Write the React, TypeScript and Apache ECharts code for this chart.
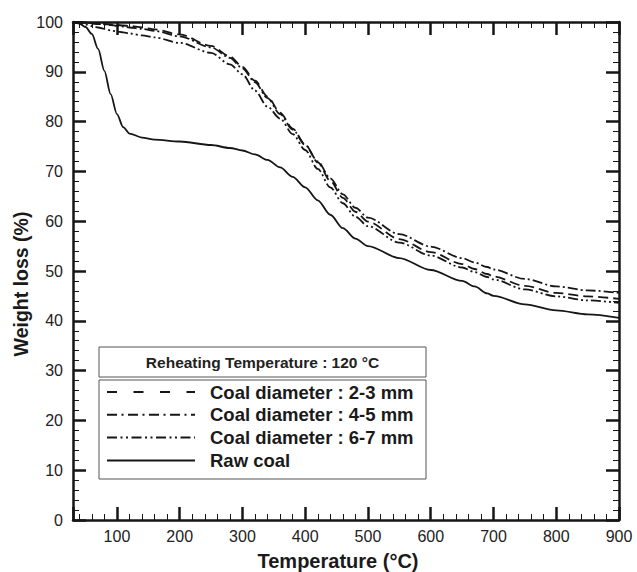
import React, { useEffect, useRef } from "react";
import * as echarts from "echarts";

const temps = [30, 40, 50, 60, 70, 80, 90, 100, 110, 120, 140, 160, 200, 250, 280, 300, 320, 340, 360, 380, 400, 420, 440, 460, 480, 500, 550, 600, 650, 670, 690, 700, 750, 800, 850, 900];

const coal23 = [100, 100, 99.9, 99.8, 99.7, 99.6, 99.5, 99.4, 99.3, 99.2, 98.9, 98.5, 97.5, 95.2, 93.1, 91.0, 88.2, 85.0, 81.8, 78.6, 75.4, 71.8, 68.1, 64.7, 61.9, 59.9, 56.4, 53.8, 51.4, 50.4, 49.4, 48.9, 47.0, 45.6, 44.9, 44.4];
const coal45 = [100, 100, 99.9, 99.7, 99.6, 99.5, 99.4, 99.2, 99.1, 98.9, 98.6, 98.2, 97.1, 94.9, 92.8, 90.7, 87.9, 84.7, 81.5, 78.4, 75.3, 72.0, 68.6, 65.4, 62.7, 60.7, 57.4, 54.9, 52.6, 51.7, 50.8, 50.3, 48.4, 46.9, 46.1, 45.6];
const coal67 = [100, 99.8, 99.5, 99.2, 98.9, 98.6, 98.3, 98.1, 97.9, 97.7, 97.3, 96.9, 95.8, 93.8, 91.5, 89.5, 86.2, 83.0, 80.6, 77.5, 74.3, 70.5, 66.8, 63.6, 60.9, 59.0, 55.7, 53.1, 50.7, 49.8, 48.8, 48.3, 46.3, 44.9, 44.1, 43.6];
const rawCoal = [100, 99.7, 99.0, 97.6, 94.6, 90.2, 85.5, 81.5, 78.9, 77.6, 76.8, 76.4, 76.0, 75.3, 74.7, 74.2, 73.4, 72.3, 70.8, 68.9, 66.8, 64.2, 61.3, 58.6, 56.5, 55.0, 52.6, 50.2, 48.0, 46.9, 45.5, 45.0, 43.3, 42.1, 41.3, 40.6];

const seriesNames = ["Coal diameter : 2-3 mm", "Coal diameter : 4-5 mm", "Coal diameter : 6-7 mm", "Raw coal"];
const seriesValues = [coal23, coal45, coal67, rawCoal];
const lineDashes: (number[] | "solid")[] = [[10, 5], [10, 3, 2, 3], [10, 3, 2, 3, 2, 3], "solid"];
const legendDashes: (number[] | null)[] = [[10, 16.5], [10, 4.5, 2, 4.5], [10, 3.5, 2, 3.5, 2, 3.5], null];

const boxTitle = "Reheating Temperature : 120 °C";
const xTitle = "Temperature (°C)";
const yTitle = "Weight loss (%)";

const FONT = "'Liberation Sans', Arial, Helvetica, sans-serif";
const INK = "#161616";

export default function App() {
  const ref = useRef<HTMLDivElement>(null);
  useEffect(() => {
    document.body.style.margin = "0";
    const chart = echarts.init(ref.current!, null, { renderer: "svg" });

    const axisCommon = {
      axisLine: { show: true, onZero: false, lineStyle: { color: INK, width: 2.5 } },
      splitLine: { show: false },
      axisTick: { show: true, inside: true, length: 13, lineStyle: { color: INK, width: 2.5 } },
      minorTick: { show: true, splitNumber: 5, length: 6, lineStyle: { color: INK, width: 1 } },
    };

    const xBase = {
      type: "value" as const,
      min: 30,
      max: 900,
      splitNumber: 9,
      minInterval: 100,
      maxInterval: 100,
      ...axisCommon,
    };
    const yBase = {
      type: "value" as const,
      min: 0,
      max: 100,
      interval: 10,
      ...axisCommon,
    };

    const graphics: any[] = [];
    graphics.push({
      type: "text",
      x: 338,
      y: 561,
      style: { text: xTitle, font: `bold 20px ${FONT}`, fill: "#1a1a1a", align: "center", verticalAlign: "middle" },
    });
    graphics.push({
      type: "text",
      x: 21,
      y: 284,
      rotation: Math.PI / 2,
      style: { text: yTitle, font: `bold 19.5px ${FONT}`, fill: "#1a1a1a", align: "center", verticalAlign: "middle" },
    });
    const bx = 99, bw = 327;
    graphics.push({
      type: "rect",
      shape: { x: bx, y: 347, width: bw, height: 30 },
      style: { fill: "#fff", stroke: "#555", lineWidth: 1 },
      z: 100,
    });
    graphics.push({
      type: "text",
      x: bx + bw / 2,
      y: 362,
      style: { text: boxTitle, font: `bold 15.5px ${FONT}`, fill: "#222", align: "center", verticalAlign: "middle" },
      z: 101,
    });
    graphics.push({
      type: "rect",
      shape: { x: bx, y: 380, width: bw, height: 99 },
      style: { fill: "#fff", stroke: "#555", lineWidth: 1 },
      z: 100,
    });
    seriesNames.forEach((name, i) => {
      const y = 392 + i * 22.8;
      const dash = legendDashes[i];
      graphics.push({
        type: "line",
        shape: { x1: 107, y1: y, x2: 195, y2: y },
        style: { stroke: INK, lineWidth: 2, lineDash: dash || undefined },
        z: 101,
      });
      graphics.push({
        type: "text",
        x: 210,
        y: y,
        style: { text: name, font: `bold 18.5px ${FONT}`, fill: "#1a1a1a", align: "left", verticalAlign: "middle" },
        z: 101,
      });
    });

    chart.setOption({
      animation: false,
      backgroundColor: "#fff",
      grid: { left: 73, right: 18, top: 22, bottom: 52, containLabel: false, outerBoundsMode: "none" },
      xAxis: [
        {
          ...xBase,
          position: "bottom",
          axisLabel: { show: true, showMinLabel: false, margin: 8, fontFamily: FONT, fontSize: 16, color: "#222" },
        },
        {
          ...xBase,
          position: "top",
          axisLabel: { show: false },
        },
      ],
      yAxis: [
        {
          ...yBase,
          position: "left",
          axisLabel: { show: true, margin: 10, fontFamily: FONT, fontSize: 16, color: "#222" },
        },
        {
          ...yBase,
          position: "right",
          axisLabel: { show: false },
        },
      ],
      series: seriesNames.map((name, i) => ({
        name,
        type: "line",
        xAxisIndex: 0,
        yAxisIndex: 0,
        data: temps.map((t, k) => [t, seriesValues[i][k]]),
        showSymbol: false,
        smooth: 0.3,
        smoothMonotone: "x",
        lineStyle: { color: INK, width: 1.8, type: lineDashes[i] },
        z: 3,
      })),
      graphic: graphics,
    });
    return () => chart.dispose();
  }, []);
  return <div ref={ref} style={{ width: 637, height: 572 }} />;
}
